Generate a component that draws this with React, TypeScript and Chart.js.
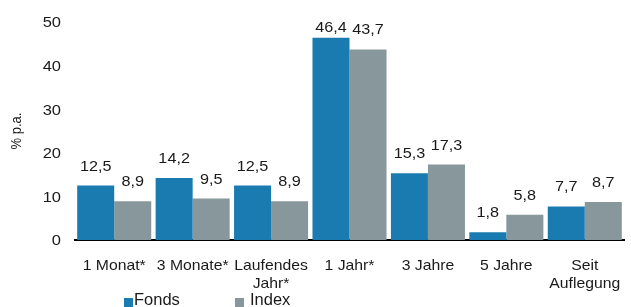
import React, { useEffect, useRef } from "react";
import { Chart, registerables } from "chart.js";

Chart.register(...registerables);

const categories: (string | string[])[] = [
  "1 Monat*",
  "3 Monate*",
  ["Laufendes", "Jahr*"],
  "1 Jahr*",
  "3 Jahre",
  "5 Jahre",
  ["Seit", "Auflegung"],
];
const fondsValues = [12.5, 14.2, 12.5, 46.4, 15.3, 1.8, 7.7];
const indexValues = [8.9, 9.5, 8.9, 43.7, 17.3, 5.8, 8.7];
const seriesNames = ["Fonds", "Index"];
const yTicks = [0, 10, 20, 30, 40, 50];
const yTitle = "% p.a.";

const BLUE = "#1a7bb0";
const GRAY = "#87979c";
const FONT = "'Liberation Sans', Arial, Helvetica, sans-serif";
const TEXT = "#1a1a1a";

function drawText(ctx: CanvasRenderingContext2D, text: string, x: number, y: number, align: CanvasTextAlign, sx: number) {
  ctx.save();
  ctx.translate(x, y);
  ctx.scale(sx, 1);
  ctx.textAlign = align;
  ctx.fillText(text, 0, 0);
  ctx.restore();
}

const textPlugin = {
  id: "textPlugin",
  afterDraw(chart: any) {
    const ctx: CanvasRenderingContext2D = chart.ctx;
    const area = chart.chartArea;
    const xs = chart.scales.x;
    const ys = chart.scales.y;
    ctx.save();
    ctx.fillStyle = TEXT;
    ctx.textBaseline = "alphabetic";
    ctx.font = `15px ${FONT}`;

    // y tick labels
    yTicks.forEach((v) => {
      const py = ys.getPixelForValue(v);
      drawText(ctx, String(v), area.left - 14, py + 5.4, "right", 1.1);
    });

    // x tick labels
    categories.forEach((lab, i) => {
      const px = xs.getPixelForValue(i);
      const lines = Array.isArray(lab) ? lab : [lab];
      lines.forEach((ln, li) => {
        drawText(ctx, ln, px, area.bottom + 29.5 + li * 18.5, "center", 1.05);
      });
    });

    // value labels
    chart.data.datasets.forEach((ds: any, di: number) => {
      const meta = chart.getDatasetMeta(di);
      meta.data.forEach((bar: any, i: number) => {
        const txt = String(ds.data[i]).replace(".", ",");
        let y = bar.y - 15;
        if (y < area.top + 10) y = area.top + 10;
        drawText(ctx, txt, bar.x, y, "center", 1.08);
      });
    });

    // y title
    ctx.save();
    ctx.font = `13px ${FONT}`;
    ctx.translate(17, (area.top + area.bottom) / 2);
    ctx.rotate(-Math.PI / 2);
    ctx.scale(1, 1.1);
    ctx.textAlign = "center";
    ctx.textBaseline = "middle";
    ctx.fillText(yTitle, 0, 0);
    ctx.restore();

    // legend
    ctx.font = `16px ${FONT}`;
    const baseY = chart.height;
    const items = [
      { name: seriesNames[0], color: BLUE, x: area.left + 49, tx: area.left + 59 },
      { name: seriesNames[1], color: GRAY, x: area.left + 160, tx: area.left + 175 },
    ];
    items.forEach((it) => {
      ctx.fillStyle = it.color;
      ctx.fillRect(it.x, baseY - 9, 9, 9);
      ctx.fillStyle = TEXT;
      drawText(ctx, it.name, it.tx, baseY - 2, "left", 1.03);
    });
    ctx.restore();
  },
};

export default function App() {
  const ref = useRef<HTMLCanvasElement>(null);
  useEffect(() => {
    if (!ref.current) return;
    const chart = new Chart(ref.current, {
      type: "bar",
      data: {
        labels: categories,
        datasets: [
          {
            label: seriesNames[0],
            data: fondsValues,
            backgroundColor: BLUE,
            categoryPercentage: 0.944,
            barPercentage: 1,
          },
          {
            label: seriesNames[1],
            data: indexValues,
            backgroundColor: GRAY,
            categoryPercentage: 0.944,
            barPercentage: 1,
          },
        ],
      },
      options: {
        animation: false,
        responsive: false,
        maintainAspectRatio: false,
        layout: { padding: { left: 0, right: 7, top: 22, bottom: 0 } },
        plugins: {
          legend: { display: false },
          tooltip: { enabled: false },
        },
        scales: {
          x: {
            grid: { display: false, drawTicks: false },
            border: { display: true, color: "#000", width: 2 },
            ticks: { display: false },
            afterFit(scale: any) {
              scale.height = 67;
            },
          },
          y: {
            min: 0,
            max: 50,
            grid: { display: false, drawTicks: false },
            border: { display: false },
            afterBuildTicks(scale: any) {
              scale.ticks = yTicks.map((v) => ({ value: v }));
            },
            ticks: { display: false },
            afterFit(scale: any) {
              scale.width = 75;
            },
          },
        },
      },
      plugins: [textPlugin],
    });
    return () => chart.destroy();
  }, []);
  return (
    <div style={{ position: "absolute", left: 0, top: 0, width: 631, height: 307, background: "#fff" }}>
      <canvas ref={ref} width={631} height={307} style={{ display: "block" }} />
    </div>
  );
}
